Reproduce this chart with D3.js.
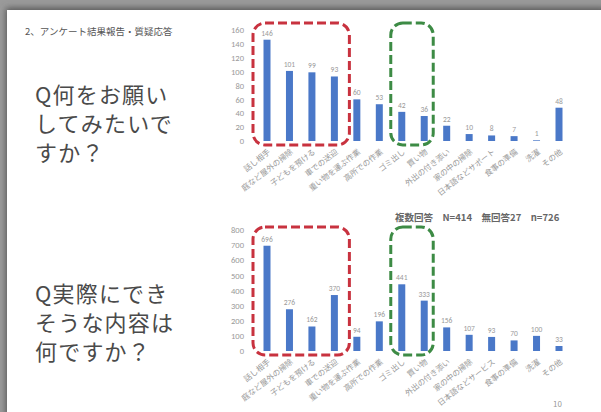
<!DOCTYPE html>
<html>
<head>
<meta charset="utf-8">
<script src="https://cdn.jsdelivr.net/npm/d3@7"></script>
<style>
body { margin: 0; background: #9a9a9a; }
svg { display: block; font-family: "Noto Sans CJK JP", sans-serif; }
</style>
</head>
<body>
<svg width="601" height="412"></svg>
<script>
let categoriesTop = ["話し相手", "庭など屋外の掃除", "子どもを預ける", "車での送迎", "重い物を運ぶ作業", "高所での作業", "ゴミ出し", "買い物", "外出の付き添い", "家の中の掃除", "日本語などサポート", "食事の準備", "洗濯", "その他"];
let categoriesBottom = ["話し相手", "庭など屋外の掃除", "子どもを預ける", "車での送迎", "重い物を運ぶ作業", "高所での作業", "ゴミ出し", "買い物", "外出の付き添い", "家の中の掃除", "日本語などサービス", "食事の準備", "洗濯", "その他"];
let valuesTop = [146, 101, 99, 93, 60, 53, 42, 36, 22, 10, 8, 7, 1, 48];
let valuesBottom = [696, 276, 162, 370, 94, 196, 441, 333, 156, 107, 93, 70, 100, 33];
let ticksTop = [0, 20, 40, 60, 80, 100, 120, 140, 160];
let ticksBottom = [0, 100, 200, 300, 400, 500, 600, 700, 800];
let redGroup = [0, 3];
let greenGroup = [6, 7];

let svg = d3.select("svg");

// slide
let defs = svg.append("defs");
let f = defs.append("filter").attr("id", "sh").attr("x", "-5%").attr("y", "-5%").attr("width", "110%").attr("height", "110%");
f.append("feGaussianBlur").attr("stdDeviation", 3);
svg.append("rect").attr("x", 6).attr("y", 8).attr("width", 600).attr("height", 410)
    .attr("fill", "#555").attr("filter", "url(#sh)");
svg.append("rect").attr("x", 7).attr("y", 10).attr("width", 594).attr("height", 402).attr("fill", "#fff");

svg.append("text").attr("x", 25).attr("y", 35).attr("font-size", 9.5).attr("fill", "#555")
    .text("2、アンケート結果報告・質疑応答");

let qTop = ["Q何をお願い", "してみたいで", "すか？"];
let qBottom = ["Q実際にでき", "そうな内容は", "何ですか？"];
let drawQ = (lines, y0) => {
    svg.append("g").selectAll("text").data(lines).enter().append("text")
        .attr("x", 35).attr("y", (d, i) => y0 + i * 29)
        .attr("font-size", 22).attr("letter-spacing", 1.2).attr("fill", "#4a4a4a")
        .text(d => d);
};
drawQ(qTop, 103);
drawQ(qBottom, 302);

let x = d3.scalePoint().domain(d3.range(14)).range([267, 559]);
let barW = 7;

let drawChart = (cats, vals, ticks, yTop, yBase, maxV, boxTop) => {
    let y = d3.scaleLinear().domain([0, maxV]).range([yBase, yTop]);
    let g = svg.append("g");

    let ax = g.append("g").attr("transform", "translate(244,0)")
        .call(d3.axisLeft(y).tickValues(ticks).tickSize(0).tickPadding(0));
    ax.select(".domain").remove();
    ax.selectAll("text").attr("fill", "#999").attr("font-size", 8.5).attr("font-family", "Calibri, 'Liberation Sans', sans-serif");

    // boxes
    let box = (grp, color, padL, padR) => {
        g.append("rect")
            .attr("x", x(grp[0]) - padL)
            .attr("y", y(maxV) - boxTop)
            .attr("width", x(grp[1]) - x(grp[0]) + padL + padR)
            .attr("height", y(0) - y(maxV) + boxTop + 4)
            .attr("rx", 12).attr("fill", "none")
            .attr("stroke", color).attr("stroke-width", 3)
            .attr("stroke-dasharray", "9,4");
    };

    g.selectAll(".bar").data(vals).enter().append("rect")
        .attr("class", "bar")
        .attr("x", (d, i) => x(i) - barW / 2)
        .attr("y", d => y(d))
        .attr("width", barW)
        .attr("height", d => y(0) - y(d))
        .attr("fill", "#4a78c8");

    g.selectAll(".val").data(vals).enter().append("text")
        .attr("x", (d, i) => x(i))
        .attr("y", d => y(d) - 4)
        .attr("text-anchor", "middle")
        .attr("font-size", 7.5).attr("fill", "#999")
        .attr("font-family", "Calibri, 'Liberation Sans', sans-serif")
        .text(d => d);

    box(redGroup, "#c8323f", 14, 15);
    box(greenGroup, "#3d8b45", 11, 9);

    g.selectAll(".lab").data(cats).enter().append("text")
        .attr("text-anchor", "end")
        .attr("font-size", 7.8).attr("fill", "#999")
        .attr("transform", (d, i) => "translate(" + (x(i) + 4) + "," + (yBase + 12) + ") rotate(-38)")
        .text(d => d);
};

drawChart(categoriesTop, valuesTop, ticksTop, 30, 141, 160, 7);
drawChart(categoriesBottom, valuesBottom, ticksBottom, 230, 351, 800, 3);

svg.append("text").attr("x", 395).attr("y", 221).attr("font-size", 9.5).attr("fill", "#666")
    .attr("font-weight", "bold").attr("xml:space", "preserve")
    .text("複数回答　N=414　無回答27　n=726");

svg.append("text").attr("x", 553).attr("y", 407).attr("font-size", 8).attr("fill", "#999").text("10");
</script>
</body>
</html>
